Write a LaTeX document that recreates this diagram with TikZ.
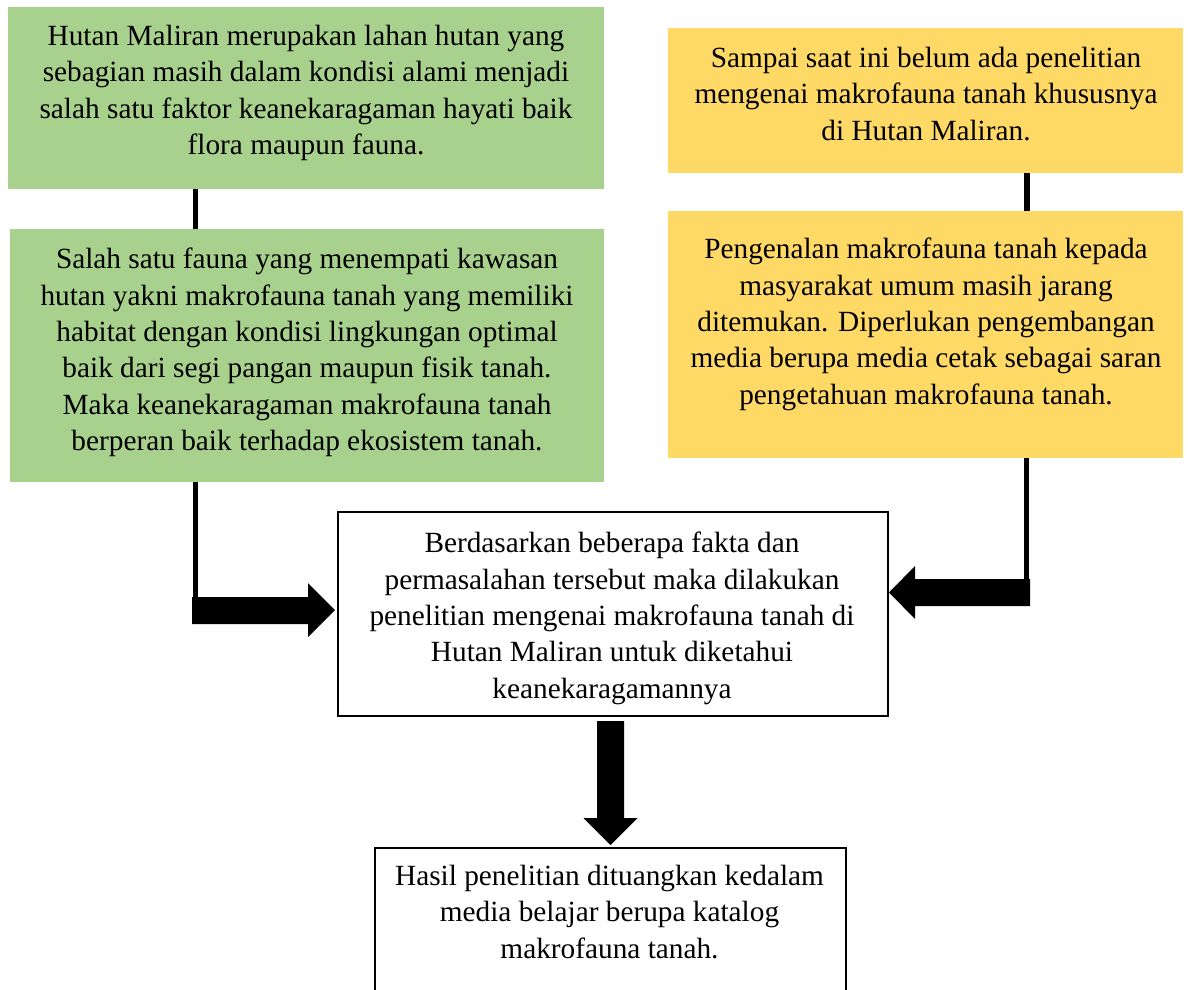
\documentclass[tikz,border=0pt]{standalone}
\usepackage{fontspec}
\setmainfont{Liberation Serif}
\definecolor{boxgreen}{RGB}{169,209,142}
\definecolor{boxyellow}{RGB}{255,217,102}
\begin{document}
\begin{tikzpicture}[x=1pt,y=-1pt,
  txt/.style={align=center, inner sep=0pt, font=\fontsize{29.3}{36.3}\selectfont, anchor=north},
  gbox/.style={fill=boxgreen, draw=none, anchor=north west, inner sep=0pt},
  ybox/.style={fill=boxyellow, draw=none, anchor=north west, inner sep=0pt},
  wbox/.style={fill=white, draw=black, line width=2pt, anchor=north west, inner sep=0pt},
  conn/.style={draw=black, line width=5.5pt},
  bigarrow/.style={fill=black}
]
\useasboundingbox (0,0) rectangle (1188,990);
\clip (0,0) rectangle (1188,990);
\fill[white] (0,0) rectangle (1188,990);

% boxes
\node[gbox, minimum width=596pt, minimum height=182pt] (g1) at (8,7) {};
\node[gbox, minimum width=594pt, minimum height=253pt] (g2) at (10,229) {};
\node[ybox, minimum width=515pt, minimum height=145pt] (y1) at (668,28) {};
\node[ybox, minimum width=515pt, minimum height=247pt] (y2) at (668,211) {};
\node[wbox, minimum width=550pt, minimum height=204pt] (mid) at (337,511) {};
\node[wbox, minimum width=471pt, minimum height=170pt] (res) at (374,847) {};

% texts
\node[txt] (t1) at (306,25) {Hutan Maliran merupakan lahan hutan yang\\ sebagian masih dalam kondisi alami menjadi\\ salah satu faktor keanekaragaman hayati baik\\ flora maupun fauna.};
\node[txt] (t2) at (307,248) {Salah satu fauna yang menempati kawasan\\ hutan yakni makrofauna tanah yang memiliki\\ habitat dengan kondisi lingkungan optimal\\ baik dari segi pangan maupun fisik tanah.\\ Maka keanekaragaman makrofauna tanah\\ berperan baik terhadap ekosistem tanah.};
\node[txt] (t3) at (926,47) {Sampai saat ini belum ada penelitian\\ mengenai makrofauna tanah khususnya\\ di Hutan Maliran.};
\node[txt] (t4) at (926,238) {Pengenalan makrofauna tanah kepada\\ masyarakat umum masih jarang\\ ditemukan. Diperlukan pengembangan\\ media berupa media cetak sebagai saran\\ pengetahuan makrofauna tanah.};
\node[txt] (t5) at (612,532) {Berdasarkan beberapa fakta dan\\ permasalahan tersebut maka dilakukan\\ penelitian mengenai makrofauna tanah di\\ Hutan Maliran untuk diketahui\\ keanekaragamannya};
\node[txt] (t6) at (609.5,865) {Hasil penelitian dituangkan kedalam\\ media belajar berupa katalog\\ makrofauna tanah.};

% thin connectors
\draw[conn] ([xshift=187.5pt]g1.south west) -- ([xshift=185.5pt]g2.north west);
\draw[conn] ([xshift=359pt]y1.south west) -- ([xshift=359pt]y2.north west);
\draw[conn] ([xshift=185.5pt]g2.south west) -- ++(0,116);
\draw[conn] ([xshift=358.5pt]y2.south west) -- ++(0,124);

% block arrows
\fill[bigarrow] ([yshift=4pt,xshift=-2pt]mid.west) -- ++(-27,-27) -- ++(0,14) -- ++(-116,0) -- ++(0,27) -- ++(116,0) -- ++(0,13) -- cycle;
\fill[bigarrow] ([yshift=21.5pt]mid.east) -- ++(26,-26.5) -- ++(0,13) -- ++(115,0) -- ++(0,27) -- ++(-115,0) -- ++(0,13) -- cycle;
\fill[bigarrow] ([yshift=2pt]res.north) -- ++(-27,-27) -- ++(13.5,0) -- ++(0,-97) -- ++(27,0) -- ++(0,97) -- ++(13.5,0) -- cycle;
\end{tikzpicture}
\end{document}
